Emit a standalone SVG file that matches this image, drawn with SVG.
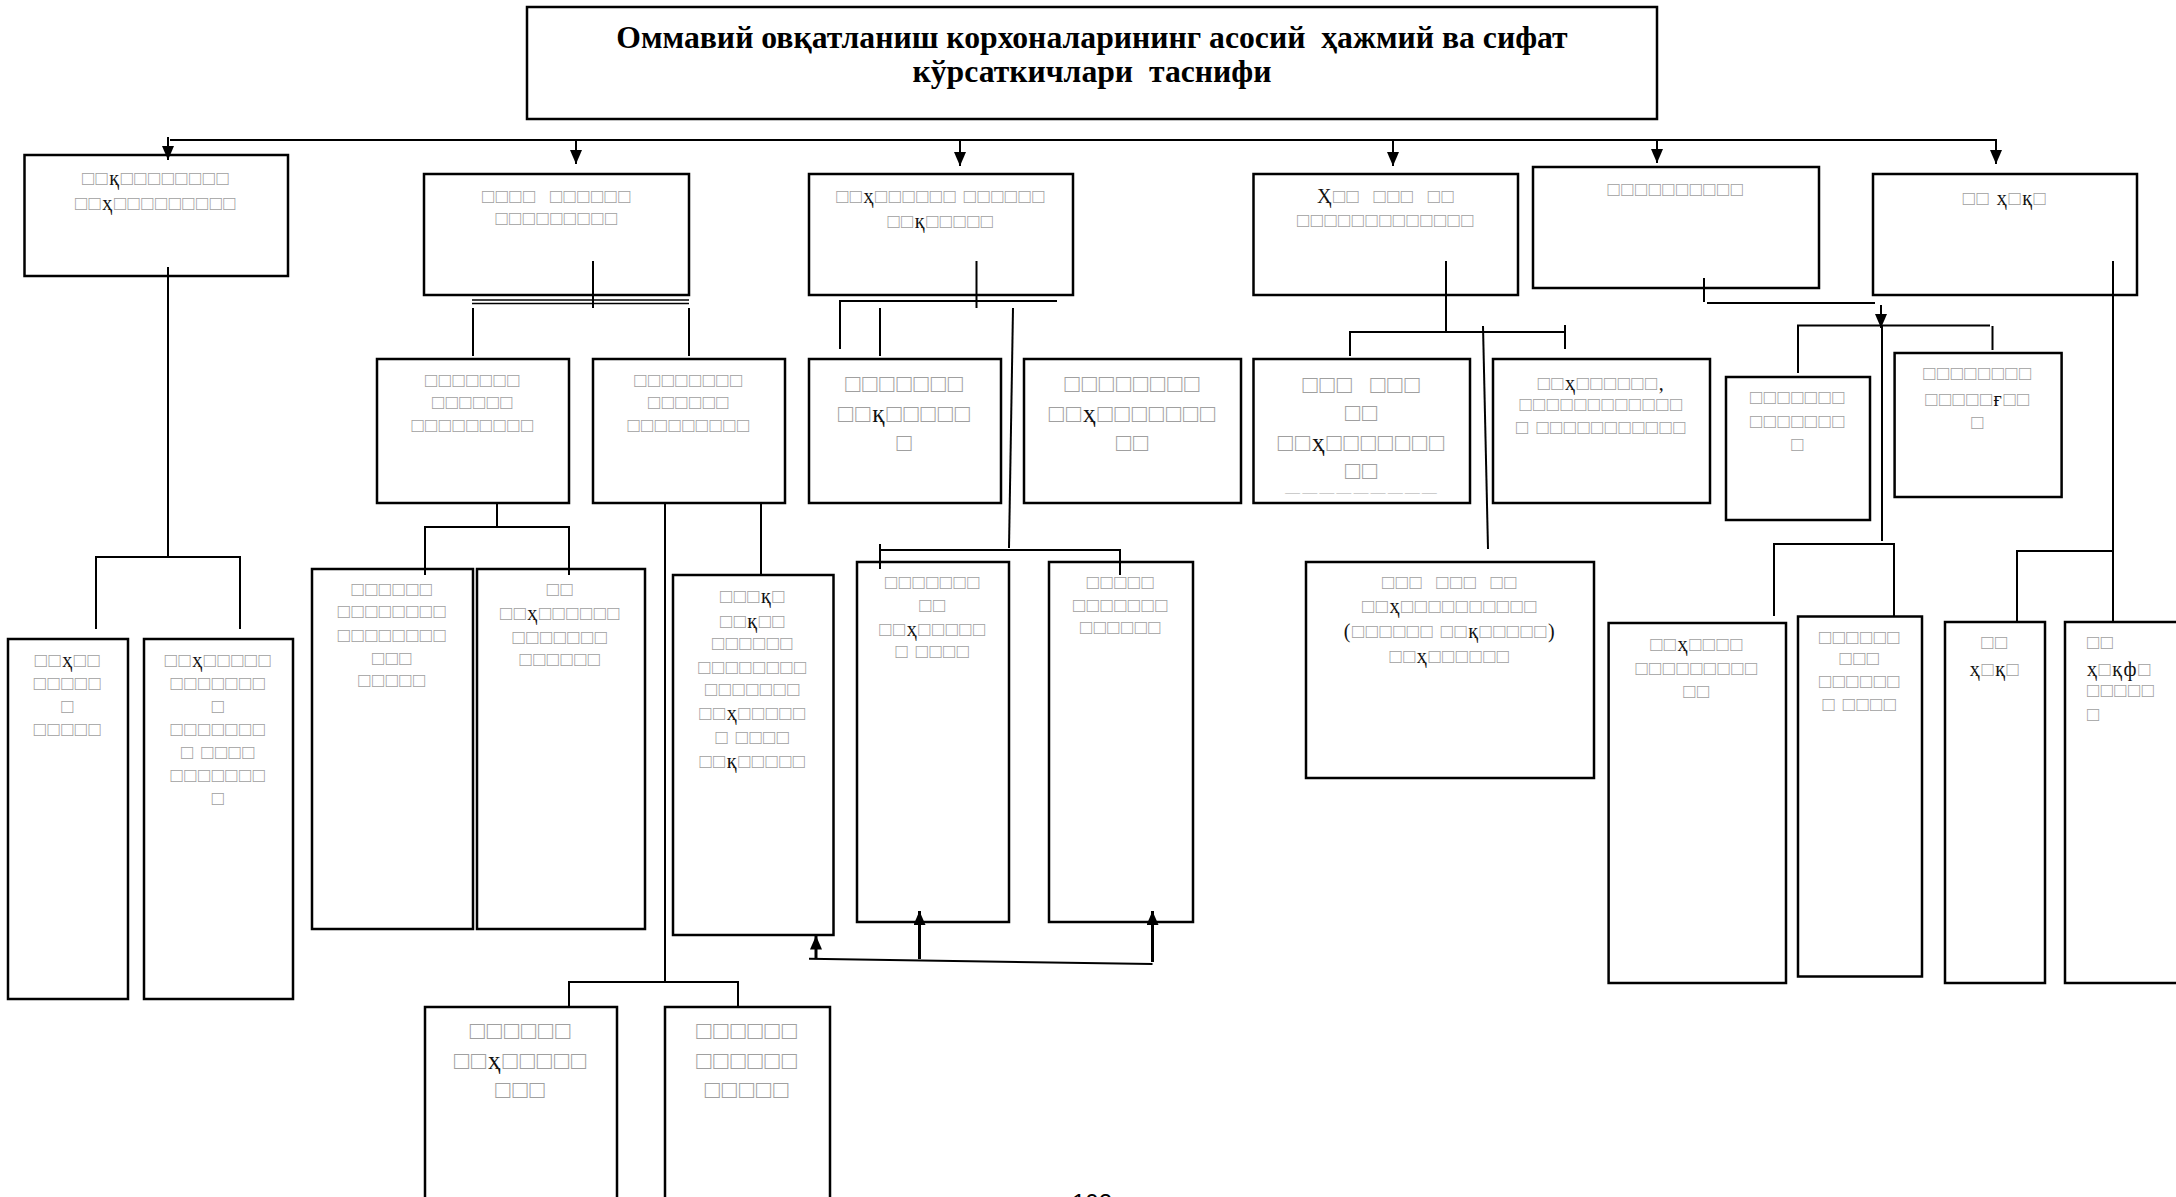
<svg xmlns="http://www.w3.org/2000/svg" width="2176" height="1197" viewBox="0 0 2176 1197">
<style>
.bx{fill:#fff;stroke:#000;stroke-width:2.5}
.ln{fill:none;stroke:#000;stroke-width:2}
.ar{fill:none;stroke:#000;stroke-width:2;marker-end:url(#ah)}
.ttl{font-family:"Liberation Serif",serif;font-weight:bold;font-size:31.7px;fill:#000;text-anchor:middle;white-space:pre}
.s{font-family:"Liberation Serif",serif;font-size:20px;fill:#a0a0a0;text-anchor:middle;letter-spacing:1.6px;white-space:pre}
.L{font-size:25px;letter-spacing:2px}
.st{text-anchor:start}
.k{fill:#111}
.pg{font-family:"Liberation Sans",sans-serif;font-size:24px;fill:#000;text-anchor:middle}
</style>
<defs>
<marker id="ah" viewBox="0 0 14 12" refX="14" refY="6" markerWidth="14" markerHeight="12" markerUnits="userSpaceOnUse" orient="auto">
<path d="M0,0 L14,6 L0,12 z" fill="#000"/>
</marker>
<clipPath id="clipI1"><rect x="1253.5" y="359" width="216.5" height="134.5"/></clipPath>
</defs>
<rect width="2176" height="1197" fill="#fff"/>

<g id="title">
<rect class="bx" x="527" y="7" width="1130" height="112"/>
<text class="ttl" x="1092" y="48">Оммавий овқатланиш корхоналарининг асосий  ҳажмий ва сифат</text>
<text class="ttl" x="1092" y="82">кўрсаткичлари  таснифи</text>
</g>

<g id="B1">
<rect class="bx" x="24.5" y="155" width="263.5" height="121"/>
<text class="s" x="156" y="185">□□<tspan class="k">қ</tspan>□□□□□□□□</text>
<text class="s" x="156" y="210">□□<tspan class="k">ҳ</tspan>□□□□□□□□□</text>
</g>
<g id="B2">
<rect class="bx" x="424" y="174" width="265" height="121"/>
<text class="s" x="557" y="203">□□□□  □□□□□□</text>
<text class="s" x="557" y="225">□□□□□□□□□</text>
</g>
<g id="B3">
<rect class="bx" x="809" y="174" width="264" height="121"/>
<text class="s" x="941" y="203">□□<tspan class="k">ҳ</tspan>□□□□□□ □□□□□□</text>
<text class="s" x="941" y="228">□□<tspan class="k">қ</tspan>□□□□□</text>
</g>
<g id="B4">
<rect class="bx" x="1253.5" y="174" width="264.5" height="121"/>
<text class="s" x="1386" y="203"><tspan class="k">Ҳ</tspan>□□  □□□  □□</text>
<text class="s" x="1386" y="227">□□□□□□□□□□□□□</text>
</g>
<g id="B5">
<rect class="bx" x="1533" y="167" width="286" height="121"/>
<text class="s" x="1676" y="196">□□□□□□□□□□</text>
</g>
<g id="B6">
<rect class="bx" x="1873" y="174" width="264" height="121"/>
<text class="s" x="2005" y="205">□□ <tspan class="k">ҳ</tspan>□<tspan class="k">қ</tspan>□</text>
</g>

<g id="C2a">
<rect class="bx" x="377" y="359" width="192" height="144"/>
<text class="s" x="473" y="387">□□□□□□□</text>
<text class="s" x="473" y="409">□□□□□□</text>
<text class="s" x="473" y="432">□□□□□□□□□</text>
</g>
<g id="C2b">
<rect class="bx" x="593" y="359" width="192" height="144"/>
<text class="s" x="689" y="387">□□□□□□□□</text>
<text class="s" x="689" y="409">□□□□□□</text>
<text class="s" x="689" y="432">□□□□□□□□□</text>
</g>
<g id="E1">
<rect class="bx" x="809" y="359" width="192" height="144"/>
<text class="s L" x="905" y="392">□□□□□□□</text>
<text class="s L" x="905" y="422">□□<tspan class="k">қ</tspan>□□□□□</text>
<text class="s L" x="905" y="451">□</text>
</g>
<g id="E2">
<rect class="bx" x="1024" y="359" width="217" height="144"/>
<text class="s L" x="1133" y="392">□□□□□□□□</text>
<text class="s L" x="1133" y="422">□□<tspan class="k">ҳ</tspan>□□□□□□□</text>
<text class="s L" x="1133" y="451">□□</text>
</g>
<g id="I1">
<rect class="bx" x="1253.5" y="359" width="216.5" height="144"/>
<g clip-path="url(#clipI1)">
<text class="s L" x="1362" y="393">□□□  □□□</text>
<text class="s L" x="1362" y="421">□□</text>
<text class="s L" x="1362" y="451">□□<tspan class="k">ҳ</tspan>□□□□□□□</text>
<text class="s L" x="1362" y="479">□□</text>
<text class="s L" x="1362" y="508">□□□□□□□□□</text>
</g>
</g>
<g id="I2">
<rect class="bx" x="1493" y="359" width="217" height="144"/>
<text class="s" x="1601.5" y="390">□□<tspan class="k">ҳ</tspan>□□□□□□<tspan class="k">,</tspan></text>
<text class="s" x="1601.5" y="411">□□□□□□□□□□□□</text>
<text class="s" x="1601.5" y="434">□ □□□□□□□□□□□</text>
</g>
<g id="K1">
<rect class="bx" x="1726" y="377" width="144" height="143"/>
<text class="s" x="1798" y="404">□□□□□□□</text>
<text class="s" x="1798" y="428">□□□□□□□</text>
<text class="s" x="1798" y="451">□</text>
</g>
<g id="K2">
<rect class="bx" x="1894.6" y="353" width="167" height="144"/>
<text class="s" x="1978" y="380">□□□□□□□□</text>
<text class="s" x="1978" y="406">□□□□□<tspan class="k">ғ</tspan>□□</text>
<text class="s" x="1978" y="429">□</text>
</g>

<g id="L1">
<rect class="bx" x="8" y="639" width="120" height="360"/>
<text class="s" x="68" y="667">□□<tspan class="k">ҳ</tspan>□□</text>
<text class="s" x="68" y="690">□□□□□</text>
<text class="s" x="68" y="713">□</text>
<text class="s" x="68" y="736">□□□□□</text>
</g>
<g id="L2">
<rect class="bx" x="144" y="639" width="149" height="360"/>
<text class="s" x="218.5" y="667">□□<tspan class="k">ҳ</tspan>□□□□□</text>
<text class="s" x="218.5" y="690">□□□□□□□</text>
<text class="s" x="218.5" y="713">□</text>
<text class="s" x="218.5" y="736">□□□□□□□</text>
<text class="s" x="218.5" y="759">□ □□□□</text>
<text class="s" x="218.5" y="782">□□□□□□□</text>
<text class="s" x="218.5" y="805">□</text>
</g>
<g id="D1">
<rect class="bx" x="312" y="569" width="161" height="360"/>
<text class="s" x="392.5" y="596">□□□□□□</text>
<text class="s" x="392.5" y="618">□□□□□□□□</text>
<text class="s" x="392.5" y="642">□□□□□□□□</text>
<text class="s" x="392.5" y="665">□□□</text>
<text class="s" x="392.5" y="687">□□□□□</text>
</g>
<g id="D2">
<rect class="bx" x="477" y="569" width="168" height="360"/>
<text class="s" x="560.5" y="596">□□</text>
<text class="s" x="560.5" y="620">□□<tspan class="k">ҳ</tspan>□□□□□□</text>
<text class="s" x="560.5" y="644">□□□□□□□</text>
<text class="s" x="560.5" y="666">□□□□□□</text>
</g>
<g id="G">
<rect class="bx" x="673" y="575" width="160.5" height="360"/>
<text class="s" x="753" y="603">□□□<tspan class="k">қ</tspan>□</text>
<text class="s" x="753" y="628">□□<tspan class="k">қ</tspan>□□</text>
<text class="s" x="753" y="650">□□□□□□</text>
<text class="s" x="753" y="674">□□□□□□□□</text>
<text class="s" x="753" y="696">□□□□□□□</text>
<text class="s" x="753" y="720">□□<tspan class="k">ҳ</tspan>□□□□□</text>
<text class="s" x="753" y="744">□ □□□□</text>
<text class="s" x="753" y="768">□□<tspan class="k">қ</tspan>□□□□□</text>
</g>
<g id="F1">
<rect class="bx" x="857" y="562" width="152" height="360"/>
<text class="s" x="933" y="589">□□□□□□□</text>
<text class="s" x="933" y="612">□□</text>
<text class="s" x="933" y="636">□□<tspan class="k">ҳ</tspan>□□□□□</text>
<text class="s" x="933" y="658">□ □□□□</text>
</g>
<g id="F2">
<rect class="bx" x="1049" y="562" width="144" height="360"/>
<text class="s" x="1121" y="589">□□□□□</text>
<text class="s" x="1121" y="612">□□□□□□□</text>
<text class="s" x="1121" y="634">□□□□□□</text>
</g>
<g id="J">
<rect class="bx" x="1306" y="562" width="288" height="216"/>
<text class="s" x="1450" y="589">□□□  □□□  □□</text>
<text class="s" x="1450" y="613">□□<tspan class="k">ҳ</tspan>□□□□□□□□□□</text>
<text class="s" x="1450" y="638"><tspan class="k">(</tspan>□□□□□□ □□<tspan class="k">қ</tspan>□□□□□<tspan class="k">)</tspan></text>
<text class="s" x="1450" y="663">□□<tspan class="k">ҳ</tspan>□□□□□□</text>
</g>
<g id="M1">
<rect class="bx" x="1608.6" y="623" width="177.4" height="360"/>
<text class="s" x="1697" y="651">□□<tspan class="k">ҳ</tspan>□□□□</text>
<text class="s" x="1697" y="675">□□□□□□□□□</text>
<text class="s" x="1697" y="698">□□</text>
</g>
<g id="M2">
<rect class="bx" x="1798" y="616.5" width="124" height="360"/>
<text class="s" x="1860" y="644">□□□□□□</text>
<text class="s" x="1860" y="665">□□□</text>
<text class="s" x="1860" y="688">□□□□□□</text>
<text class="s" x="1860" y="711">□ □□□□</text>
</g>
<g id="N1">
<rect class="bx" x="1945" y="622" width="100" height="361"/>
<text class="s" x="1995" y="649">□□</text>
<text class="s" x="1995" y="676"><tspan class="k">ҳ</tspan>□<tspan class="k">қ</tspan>□</text>
</g>
<g id="N2">
<rect class="bx" x="2065" y="622" width="125" height="361"/>
<text class="s st" x="2087" y="649">□□</text>
<text class="s st" x="2087" y="676"><tspan class="k">ҳ</tspan>□<tspan class="k">қф</tspan>□</text>
<text class="s st" x="2087" y="697">□□□□□</text>
<text class="s st" x="2087" y="721">□</text>
</g>
<g id="H1">
<rect class="bx" x="425" y="1007" width="192" height="210"/>
<text class="s L" x="521" y="1039">□□□□□□</text>
<text class="s L" x="521" y="1069">□□<tspan class="k">ҳ</tspan>□□□□□</text>
<text class="s L" x="521" y="1098">□□□</text>
</g>
<g id="H2">
<rect class="bx" x="665" y="1007" width="165" height="210"/>
<text class="s L" x="747.5" y="1039">□□□□□□</text>
<text class="s L" x="747.5" y="1069">□□□□□□</text>
<text class="s L" x="747.5" y="1098">□□□□□</text>
</g>

<g id="connectors">
<path class="ln" d="M170,140 H1997"/>
<path class="ar" d="M168,137 V160"/>
<path class="ar" d="M576,140 V164"/>
<path class="ar" d="M960,140 V166"/>
<path class="ar" d="M1393,140 V166"/>
<path class="ar" d="M1657,140 V163"/>
<path class="ar" d="M1996,140 V164"/>
<path class="ln" d="M168,267 V557 M96,629 V557 H240 V629"/>
<path class="ln" d="M593,261 V308"/>
<path class="ln" d="M472,300 H689 M472,303.5 H689" style="stroke-width:1.6"/>
<path class="ln" d="M473,308 V356 M689,308 V356"/>
<path class="ln" d="M497,503 V527 M425,575 V527 H569 V575"/>
<path class="ln" d="M761,503 V575"/>
<path class="ln" d="M665,503 V982 M569,1007 V982 H738 V1007"/>
<path class="ln" d="M976.5,261 V308"/>
<path class="ln" d="M840,349 V301 H1057"/>
<path class="ln" d="M880,308 V356"/>
<path class="ln" d="M1013,308 L1009,548"/>
<path class="ln" d="M880,544 V569 M880,550 H1120 V575"/>
<path class="ln" d="M809,958.7 L1152.5,964"/>
<path class="ar" d="M816,959 V935.6" style="stroke-width:3"/>
<path class="ar" d="M919.5,959 V911" style="stroke-width:3"/>
<path class="ar" d="M1152.5,962 V911" style="stroke-width:3"/>
<path class="ln" d="M1446,261 V332"/>
<path class="ln" d="M1350,356 V332 H1565 M1565,325 V349"/>
<path class="ln" d="M1483,326 L1488,549"/>
<path class="ln" d="M1704,278 V302 M1707,303 H1875"/>
<path class="ar" d="M1881,305 V328"/>
<path class="ln" d="M1798,373 V325.5 H1990 M1992.5,326 V350"/>
<path class="ln" d="M1882,325 V541"/>
<path class="ln" d="M1774,616 V544 H1894 V616"/>
<path class="ln" d="M2113,261 V622 M2017,622 V551 H2113"/>
</g>

<text class="pg" x="1092" y="1211">102</text>
</svg>
